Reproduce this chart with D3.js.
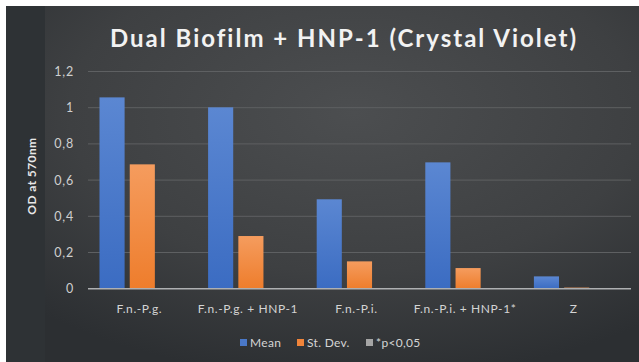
<!DOCTYPE html>
<html><head><meta charset="utf-8">
<script src="https://cdn.jsdelivr.net/npm/d3@7"></script>
<style>html,body{margin:0;padding:0;background:#fff;}svg{display:block;}</style>
</head><body>
<script>
const categories = ["F.n.-P.g.", "F.n.-P.g. + HNP-1", "F.n.-P.i.", "F.n.-P.i. + HNP-1*", "Z"];
const seriesNames = ["Mean", "St. Dev.", "*p<0,05"];
const meanValues = [1.057, 1.002, 0.494, 0.698, 0.068];
const sdValues = [0.687, 0.291, 0.151, 0.114, 0.006];
const pValues = [0, 0, 0, 0, 0];
const yTicks = [0, 0.2, 0.4, 0.6, 0.8, 1, 1.2];
const tickLabels = ["0", "0,2", "0,4", "0,6", "0,8", "1", "1,2"];
const colors = ["#4a78c8", "#f0843a", "#a5a5a5"];

const W = 639, H = 362;
const svg = d3.select("body").append("svg").attr("width", W).attr("height", H);
const defs = svg.append("defs");
const rg = defs.append("radialGradient").attr("id", "bg").attr("cx", "0.55").attr("cy", "0.3").attr("r", "0.75");
rg.append("stop").attr("offset", "0").attr("stop-color", "#4c4e50");
rg.append("stop").attr("offset", "0.6").attr("stop-color", "#3e4042");
rg.append("stop").attr("offset", "1").attr("stop-color", "#2c2f32");
const gb = defs.append("linearGradient").attr("id", "gBlue").attr("x1", 0).attr("y1", 0).attr("x2", 0).attr("y2", 1);
gb.append("stop").attr("offset", 0).attr("stop-color", "#5b87d2");
gb.append("stop").attr("offset", 1).attr("stop-color", "#3b6cc2");
const go = defs.append("linearGradient").attr("id", "gOrange").attr("x1", 0).attr("y1", 0).attr("x2", 0).attr("y2", 1);
go.append("stop").attr("offset", 0).attr("stop-color", "#f59c5e");
go.append("stop").attr("offset", 1).attr("stop-color", "#ee7d2c");
const fills = ["url(#gBlue)", "url(#gOrange)", colors[2]];

svg.append("rect").attr("x", 6).attr("y", 6).attr("width", W - 6).attr("height", H - 6).attr("fill", "url(#bg)");
svg.append("rect").attr("x", 6).attr("y", 6).attr("width", 39).attr("height", H - 6).attr("fill", "#2e3235");

const font = "Lato, 'Open Sans', sans-serif";
svg.append("text").attr("x", 344).attr("y", 47).attr("text-anchor", "middle")
  .attr("font-family", font).attr("font-weight", "bold").attr("font-size", 24)
  .attr("letter-spacing", 2).attr("fill", "#f2f2f2").text("Dual Biofilm + HNP-1 (Crystal Violet)");

const plotL = 88, plotR = 631, plotT = 71.5, plotB = 288.7;
const y = d3.scaleLinear().domain([0, 1.2]).range([plotB, plotT]);
const x0 = d3.scaleBand().domain(categories).range([plotL, plotR]).padding(0);
const bw = x0.bandwidth();
const x1 = d3.scaleBand().domain(seriesNames).range([11.5, bw - 11.5]).paddingInner(0.17).paddingOuter(0);

// gridlines
svg.append("g").selectAll("line").data(yTicks.filter(d => d > 0)).join("line")
  .attr("x1", plotL).attr("x2", plotR).attr("y1", d => y(d)).attr("y2", d => y(d))
  .attr("stroke", "#5e6062").attr("stroke-width", 1);

// y axis labels via d3 axis
const yAxis = d3.axisLeft(y).tickValues(yTicks).tickFormat((d, i) => tickLabels[i]).tickSize(0).tickPadding(0);
const ya = svg.append("g").attr("transform", `translate(${74},0)`).call(yAxis);
ya.select(".domain").remove();
ya.selectAll("text").attr("font-family", font).attr("font-size", 12.5).attr("letter-spacing", 0.8).attr("fill", "#cfcfcf");

svg.append("text").attr("transform", `translate(36,${(plotT + plotB) / 2 - 4}) rotate(-90)`)
  .attr("text-anchor", "middle").attr("font-family", font).attr("font-weight", "bold")
  .attr("font-size", 12).attr("letter-spacing", 0.4).attr("fill", "#e8e8e8").text("OD at 570nm");

const seriesData = [meanValues, sdValues, pValues];
const groups = svg.append("g").selectAll("g").data(categories).join("g")
  .attr("transform", d => `translate(${x0(d)},0)`);
groups.selectAll("rect").data((c, ci) => seriesNames.map((s, si) => ({ s, si, v: seriesData[si][ci] })))
  .join("rect")
  .attr("x", d => x1(d.s)).attr("width", x1.bandwidth())
  .attr("y", d => y(d.v)).attr("height", d => y(0) - y(d.v))
  .attr("fill", d => fills[d.si]);

// baseline
svg.append("line").attr("x1", plotL).attr("x2", plotR).attr("y1", y(0)).attr("y2", y(0))
  .attr("stroke", "#aeb0b2").attr("stroke-width", 1.5);

// x axis labels
const xAxis = d3.axisBottom(x0).tickSize(0).tickPadding(0);
const xa = svg.append("g").attr("transform", `translate(-3,${plotB + 16})`).call(xAxis);
xa.select(".domain").remove();
xa.selectAll("text").attr("font-family", font).attr("font-size", 12).attr("letter-spacing", 0.6).attr("fill", "#d4d4d4");

// legend
const legendItems = [{ n: seriesNames[0], x: 240 }, { n: seriesNames[1], x: 297 }, { n: seriesNames[2], x: 366 }];
const lg = svg.append("g").selectAll("g").data(legendItems).join("g")
  .attr("transform", d => `translate(${d.x},343)`);
lg.append("rect").attr("x", 0).attr("y", -4).attr("width", 7).attr("height", 7)
  .attr("fill", (d, i) => colors[i]);
lg.append("text").attr("x", 10).attr("y", 0).attr("dy", "0.35em")
  .attr("font-family", font).attr("font-size", 12).attr("letter-spacing", 0.3).attr("fill", "#d4d4d4").text(d => d.n);
</script>
</body></html>
